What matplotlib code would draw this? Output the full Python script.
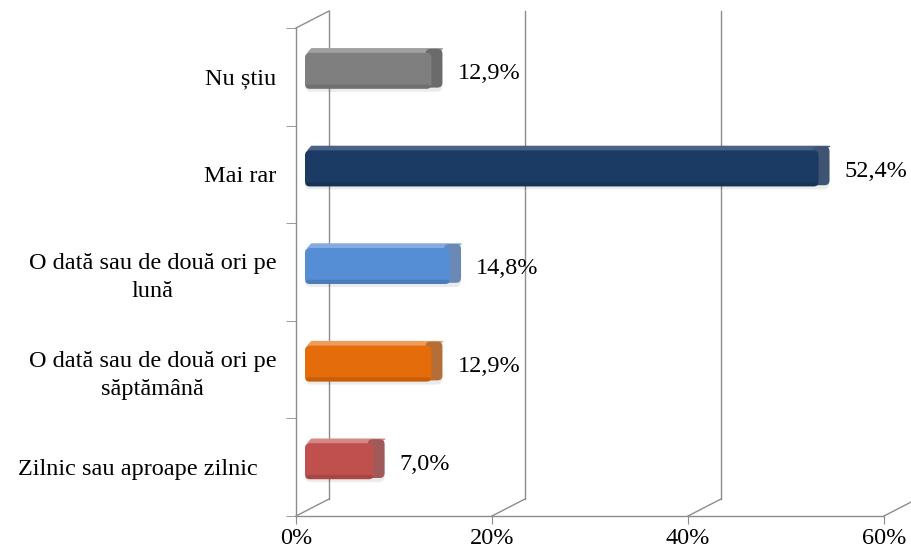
import matplotlib
matplotlib.use("Agg")
import matplotlib.pyplot as plt
from matplotlib.patches import FancyBboxPatch, Polygon

# data, top to bottom as in the chart
categories = ["Nu știu", "Mai rar", "O dată sau de două ori pe\nlună",
              "O dată sau de două ori pe\nsăptămână", "Zilnic sau aproape zilnic   "]
values = [12.9, 52.4, 14.8, 12.9, 7.0]
labels = ["12,9%", "52,4%", "14,8%", "12,9%", "7,0%"]
face_colors = ["#7f7f7f", "#1b3a64", "#558ed5", "#e46c0a", "#c0504d"]
side_colors = ["#6b6b6b", "#3f5372", "#6a8ab5", "#b56e36", "#a05a59"]
top_colors = ["#a0a0a0", "#4a6288", "#84aade", "#ee9c5a", "#d68683"]
xticks = [0, 20, 40, 60]

plt.rcParams['font.family'] = ['Liberation Serif', 'DejaVu Serif']
fs = 17.5
grid_c = "#8c8c8c"

fig = plt.figure(figsize=(9.11, 5.55), dpi=100)
ax = fig.add_axes([296/911, 39/555, 588/911, 488/555])
ax.set_xlim(0, 60)
ax.set_ylim(-0.5, 4.5)

# pixel -> data unit helpers
pxx = 60/588.0
pxy = 5/488.0

# back wall (3D look)
wdx, wdy = 33*pxx, 17*pxy
for x in xticks:
    ax.plot([x + wdx, x + wdx], [-0.5 + wdy, 4.5 + wdy], color=grid_c, lw=1, clip_on=False, zorder=1)
    ax.plot([x, x + wdx], [-0.5, -0.5 + wdy], color=grid_c, lw=1, clip_on=False, zorder=1)
ax.plot([0, wdx], [4.5, 4.5 + wdy], color=grid_c, lw=1, clip_on=False, zorder=1)

# bars
ypos = [4 - i for i in range(len(values))]
h = 36*pxy
sx = 9*pxx          # bars sit a bit into the depth
sy = 6*pxy
cdx, cdy = 11*pxx, 4*pxy
for i, (y, v) in enumerate(zip(ypos, values)):
    x0 = sx
    x1 = v + sx
    b = y - h/2 + sy
    t = y + h/2 + sy
    # soft shadow
    ax.add_patch(FancyBboxPatch((x0, b - 3*pxy), v + cdx, h, boxstyle="round,pad=0,rounding_size=0.6",
                                mutation_aspect=pxy/pxx, fc="#000000", ec="none", alpha=0.08, zorder=2))
    # top face
    ax.add_patch(Polygon([(x0 + 0.3, t), (x1, t), (x1 + cdx, t + cdy), (x0 + cdx*0.6, t + cdy)],
                         closed=True, fc=top_colors[i], ec=top_colors[i], lw=1, joinstyle="round", zorder=3))
    # end cap
    ax.add_patch(FancyBboxPatch((x1 - 0.6, b + cdy*0.3), cdx + 0.6, h + cdy*0.7,
                                boxstyle="round,pad=0,rounding_size=0.5", mutation_aspect=pxy/pxx,
                                fc=side_colors[i], ec="none", zorder=3))
    # front face
    ax.add_patch(FancyBboxPatch((x0, b), v, h, boxstyle="round,pad=0,rounding_size=0.5",
                                mutation_aspect=pxy/pxx, fc=face_colors[i], ec="none", zorder=4))
    # darker lower edge
    ax.add_patch(FancyBboxPatch((x0, b), v, h*0.12, boxstyle="round,pad=0,rounding_size=0.4",
                                mutation_aspect=pxy/pxx, fc="#000000", ec="none", alpha=0.12, zorder=5))
    ax.text(x1 + cdx + 15*pxx, y + sy*0.5, labels[i], fontsize=fs, va="center", ha="left", color="#000000")

# axes
for s in ["top", "right"]:
    ax.spines[s].set_visible(False)
for s in ["left", "bottom"]:
    ax.spines[s].set_color(grid_c)
    ax.spines[s].set_linewidth(1)

ax.set_xticks(xticks)
ax.set_xticklabels([f"{x}%" for x in xticks], fontsize=fs)
ax.tick_params(axis="x", length=6, color=grid_c, pad=3)

ax.set_yticks(ypos)
ax.set_yticklabels(categories, fontsize=fs)
ax.set_yticks([-0.5, 0.5, 1.5, 2.5, 3.5, 4.5], minor=True)
ax.tick_params(axis="y", which="major", length=0, pad=14)
ax.tick_params(axis="y", which="minor", length=7, color=grid_c)
for lab in ax.get_yticklabels():
    lab.set_multialignment("center")
    lab.set_linespacing(1.4)

fig.savefig("out.png", dpi=100)
